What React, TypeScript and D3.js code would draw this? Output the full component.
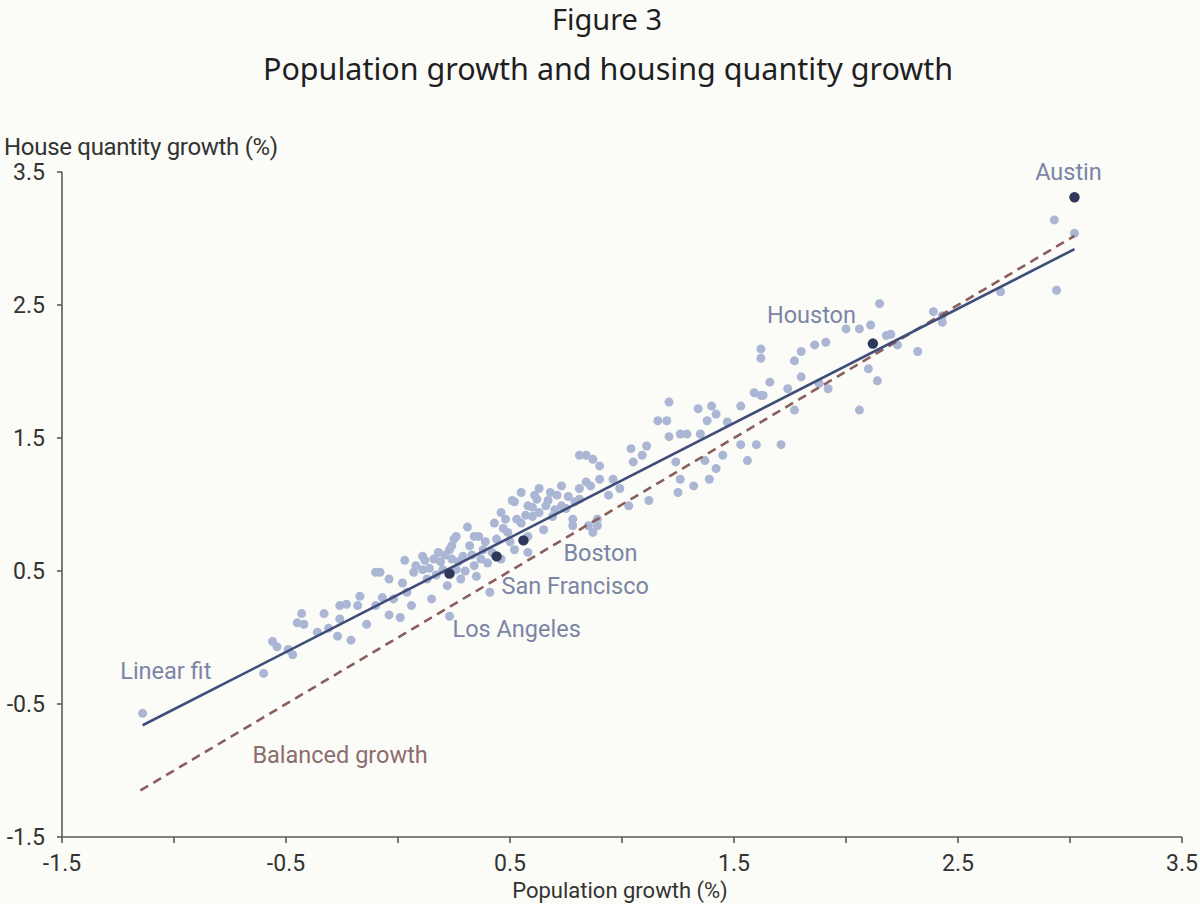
import * as d3 from "d3";

// population growth (%), house quantity growth (%)
const points: [number, number][] = [
  [-1.14, -0.57], [-0.6, -0.27], [-0.56, -0.03], [-0.54, -0.07], [-0.49, -0.09], [-0.47, -0.13],
  [-0.45, 0.11], [-0.43, 0.18], [-0.42, 0.1], [-0.36, 0.04], [-0.33, 0.18], [-0.31, 0.07],
  [-0.27, 0.01], [-0.26, 0.24], [-0.26, 0.14], [-0.23, 0.25], [-0.21, -0.02], [-0.18, 0.24],
  [-0.17, 0.31], [-0.14, 0.1], [-0.1, 0.49], [-0.1, 0.24], [-0.07, 0.3], [-0.04, 0.17],
  [-0.02, 0.29], [0.01, 0.15], [0.02, 0.41], [0.03, 0.58], [0.04, 0.34], [0.06, 0.24], [0.07, 0.49],
  [-0.08, 0.49], [-0.04, 0.44],
  [0.08, 0.54], [0.11, 0.61], [0.11, 0.51], [0.13, 0.44], [0.15, 0.29], [0.16, 0.59], [0.18, 0.64],
  [0.2, 0.51], [0.22, 0.39], [0.23, 0.66], [0.24, 0.59], [0.25, 0.74], [0.26, 0.51], [0.28, 0.44],
  [0.29, 0.61], [0.31, 0.83], [0.32, 0.69], [0.34, 0.54], [0.35, 0.46], [0.36, 0.76], [0.38, 0.66],
  [0.4, 0.56], [0.41, 0.34], [0.43, 0.86], [0.44, 0.74], [0.46, 0.59], [0.48, 0.89], [0.49, 0.79],
  [0.52, 1.02], [0.52, 0.66], [0.55, 0.86], [0.55, 1.09], [0.58, 0.99], [0.58, 0.64], [0.6, 0.91],
  [0.62, 1.04], [0.63, 1.12], [0.65, 0.81], [0.66, 0.99], [0.69, 0.91], [0.71, 1.07], [0.73, 1.14],
  [0.75, 0.97], [0.78, 0.84], [0.81, 1.04], [0.84, 1.17], [0.89, 0.84], [0.23, 0.16],
  [0.24, 0.69], [0.26, 0.76], [0.34, 0.76], [0.37, 0.59], [0.46, 0.94], [0.51, 1.03], [0.53, 0.89],
  [0.58, 0.76], [0.61, 1.07], [0.63, 0.94], [0.68, 1.09], [0.73, 0.99], [0.78, 0.89], [0.81, 1.37],
  [0.81, 1.12], [0.85, 0.84], [0.87, 0.79],
  [0.12, 0.58], [0.14, 0.52], [0.17, 0.47], [0.19, 0.57], [0.21, 0.62], [0.27, 0.57], [0.3, 0.5],
  [0.33, 0.62], [0.39, 0.72], [0.42, 0.64], [0.47, 0.82], [0.5, 0.72], [0.57, 0.92], [0.6, 0.98],
  [0.67, 1.03], [0.7, 0.96], [0.76, 1.06], [0.79, 1.02],
  [0.84, 1.37], [0.87, 1.34], [0.86, 1.14], [0.9, 1.29], [0.9, 1.19], [0.89, 0.89], [0.94, 1.07],
  [0.96, 1.19], [0.99, 1.12], [1.03, 0.99], [1.04, 1.42], [1.05, 1.32], [1.09, 1.37], [1.11, 1.44],
  [1.12, 1.03], [1.16, 1.63], [1.2, 1.63], [1.21, 1.77], [1.21, 1.51], [1.24, 1.32], [1.26, 1.53],
  [1.26, 1.19], [1.25, 1.09], [1.29, 1.53], [1.32, 1.14], [1.34, 1.72], [1.35, 1.53], [1.37, 1.33],
  [1.38, 1.63], [1.39, 1.19], [1.4, 1.74], [1.42, 1.68], [1.42, 1.27], [1.45, 1.37], [1.47, 1.62],
  [1.53, 1.74], [1.53, 1.45], [1.56, 1.33], [1.6, 1.45], [1.59, 1.84], [1.62, 1.82], [1.66, 1.92],
  [1.71, 1.45], [1.74, 1.87], [1.77, 1.71],
  [1.62, 2.17], [1.62, 2.1], [1.63, 1.82], [1.77, 2.08], [1.8, 2.15], [1.8, 1.96], [1.86, 2.2],
  [1.91, 2.22], [1.88, 1.91], [1.92, 1.87], [2.0, 2.32], [2.06, 2.32], [2.11, 2.35], [2.15, 2.51],
  [2.1, 2.02], [2.14, 1.93], [2.06, 1.71], [2.18, 2.27], [2.2, 2.28], [2.23, 2.2], [2.32, 2.15],
  [2.39, 2.45], [2.43, 2.37], [2.43, 2.42],
  [2.93, 3.14], [2.94, 2.61], [2.69, 2.6], [3.02, 3.04],
];

const cities = ["Austin", "Houston", "Boston", "San Francisco", "Los Angeles"];
const cityPop = [3.02, 2.12, 0.56, 0.44, 0.23];
const cityHouse = [3.31, 2.21, 0.73, 0.61, 0.48];

const fitLine: [number, number][] = [[-1.14, -0.66], [3.02, 2.92]];
const balancedLine: [number, number][] = [[-1.15, -1.15], [3.02, 3.02]];

const xTicks = d3.range(-1.5, 3.51, 0.5);
const xTickLabels = ["-1.5", "-0.5", "0.5", "1.5", "2.5", "3.5"];
const yTickLabels = ["3.5", "2.5", "1.5", "0.5", "-0.5", "-1.5"];

const W = 1200;
const H = 904;
const AXIS = "#5a5a5a";
const DOT = "#abb6d5";
const CITY = "#2d385a";
const FIT = "#3f4d78";
const BAL = "#8a5f5b";
const LABEL = "#7b85a5";
const FONT = "Roboto, 'Noto Sans', sans-serif";
const LABEL_SIZE = 23.5;
const TICK_SIZE = 23;

// label offsets from each city dot (px)
const cityOffsets: Record<string, [number, number, string]> = {
  Austin: [-6, -17, "middle"],
  Houston: [-106, -21, "start"],
  Boston: [40, 21, "start"],
  "San Francisco": [5, 38, "start"],
  "Los Angeles": [3, 63, "start"],
};

export default function App() {
  const x = d3.scaleLinear().domain([-1.5, 3.5]).range([62, 1182]);
  const y = d3.scaleLinear().domain([-1.5, 3.5]).range([837, 172]);
  const line = d3.line<[number, number]>().x((d) => x(d[0])).y((d) => y(d[1]));

  return (
    <svg
      width={W}
      height={H}
      style={{ position: "absolute", left: 0, top: 0, background: "#fbfbf7" }}
      fontFamily={FONT}
    >
      <rect width={W} height={H} fill="#fbfbf7" />

      {/* titles */}
      <text x={607} y={30} textAnchor="middle" fontSize={29} fill="#1f1f1f" fontFamily="'Noto Sans', sans-serif">
        Figure 3
      </text>
      <text x={608} y={80} textAnchor="middle" fontSize={30.5} fill="#1f1f1f" fontFamily="'Noto Sans', sans-serif">
        Population growth and housing quantity growth
      </text>

      {/* axis titles */}
      <text x={4} y={155} fontSize={24} fill="#333" letterSpacing={-0.3}>
        House quantity growth (%)
      </text>
      <text x={620} y={898} textAnchor="middle" fontSize={22} fill="#333">
        Population growth (%)
      </text>

      {/* scatter */}
      <g>
        {points.map((d, i) => (
          <circle key={i} cx={x(d[0])} cy={y(d[1])} r={4.5} fill={DOT} />
        ))}
      </g>

      {/* lines */}
      <path d={line(balancedLine) || ""} fill="none" stroke={BAL} strokeWidth={2.6} strokeDasharray="9,6" />
      <path d={line(fitLine) || ""} fill="none" stroke={FIT} strokeWidth={2.6} />

      {/* highlighted cities */}
      {cities.map((c, i) => {
        const [dx, dy, anchor] = cityOffsets[c];
        const cx = x(cityPop[i]);
        const cy = y(cityHouse[i]);
        return (
          <g key={c}>
            <circle cx={cx} cy={cy} r={5.2} fill={CITY} />
            <text x={cx + dx} y={cy + dy} fontSize={LABEL_SIZE} fill={LABEL} textAnchor={anchor}>
              {c}
            </text>
          </g>
        );
      })}

      <text x={x(-1.24)} y={y(-0.31)} fontSize={LABEL_SIZE} fill={LABEL}>
        Linear fit
      </text>
      <text x={x(-0.65)} y={y(-0.94)} fontSize={LABEL_SIZE} fill="#8d6d6d">
        Balanced growth
      </text>

      {/* axes */}
      <line x1={x(-1.5)} x2={x(-1.5)} y1={y(3.5)} y2={y(-1.5)} stroke={AXIS} strokeWidth={1.6} />
      <line x1={x(-1.5)} x2={x(3.5)} y1={y(-1.5)} y2={y(-1.5)} stroke={AXIS} strokeWidth={1.6} />
      {xTicks.map((t) => (
        <line key={t} x1={x(t)} x2={x(t)} y1={y(-1.5)} y2={y(-1.5) + 6} stroke={AXIS} strokeWidth={1.6} />
      ))}
      {xTickLabels.map((t) => (
        <text key={t} x={x(+t)} y={871} textAnchor="middle" fontSize={TICK_SIZE} fill="#333">
          {t}
        </text>
      ))}
      {yTickLabels.map((t) => (
        <g key={t}>
          <line x1={x(-1.5) - 5} x2={x(-1.5)} y1={y(+t)} y2={y(+t)} stroke={AXIS} strokeWidth={1.6} />
          <text x={45} y={y(+t) + 8} textAnchor="end" fontSize={TICK_SIZE} fill="#333">
            {t}
          </text>
        </g>
      ))}
    </svg>
  );
}
